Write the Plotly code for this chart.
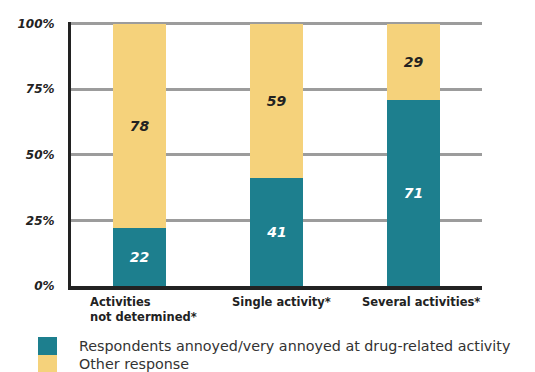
import plotly.graph_objects as go

categories = ["Activities<br>not determined*", "Single activity*", "Several activities*"]
annoyed = [22, 41, 71]
other = [78, 59, 29]
series_names = ["Respondents annoyed/very annoyed at drug-related activity", "Other response"]
y_ticks = [0, 25, 50, 75, 100]
y_tick_text = ["0%", "25%", "50%", "75%", "100%"]

TEAL = "#1d7f8e"
SAND = "#f5d27b"
INK = "#222222"
FONT = "DejaVu Sans"

# plot area in pixels
W, H = 535, 372
L, R, T, B = 71, 53, 22, 86
PW, PH = W - L - R, H - T - B


def px_x(x):
    return (x - L) / PW


def px_y(y):
    return (H - B - y) / PH


x_idx = list(range(len(categories)))

fig = go.Figure()
fig.add_trace(go.Bar(
    x=x_idx, y=annoyed, name=series_names[0], marker=dict(color=TEAL, line=dict(width=0)),
    text=annoyed, texttemplate="<b><i>%{text}</i></b>", textposition="inside",
    insidetextanchor="middle", textfont=dict(family=FONT, size=14, color="white"),
    width=0.38, showlegend=False,
))
fig.add_trace(go.Bar(
    x=x_idx, y=other, name=series_names[1], marker=dict(color=SAND, line=dict(width=0)),
    text=other, texttemplate="<b><i>%{text}</i></b>", textposition="inside",
    insidetextanchor="middle", textfont=dict(family=FONT, size=14, color=INK),
    width=0.38, showlegend=False,
))

# category labels under the axis
label_layout = [("left", -52), ("center", 5), ("center", 7)]
annotations = []
for i, (cat, (anchor, shift)) in enumerate(zip(categories, label_layout)):
    annotations.append(dict(
        x=i, y=0, xref="x", yref="paper", yanchor="top", yshift=-7,
        xanchor=anchor, xshift=shift, align="left", showarrow=False,
        text=f"<b>{cat}</b>", font=dict(family=FONT, size=11.5, color=INK),
    ))

# legend drawn as swatches with labels
shapes = []
legend_colors = [TEAL, SAND]
legend_rows = [346, 364]
for name, color, yc in zip(series_names, legend_colors, legend_rows):
    shapes.append(dict(type="rect", xref="paper", yref="paper", layer="above",
                       x0=px_x(38), x1=px_x(57), y0=px_y(yc + 9), y1=px_y(yc - 9),
                       fillcolor=color, line=dict(width=0)))
    annotations.append(dict(
        x=px_x(77), y=px_y(yc), xref="paper", yref="paper",
        xanchor="left", yanchor="middle", showarrow=False, text=name,
        font=dict(family=FONT, size=14.3, color="#333333"),
    ))

fig.update_layout(
    barmode="stack",
    width=W, height=H,
    margin=dict(l=L, r=R, t=T, b=B),
    paper_bgcolor="white", plot_bgcolor="white",
    xaxis=dict(range=[-0.5, 2.5], showticklabels=False, ticks="", showgrid=False,
               showline=True, linecolor=INK, linewidth=4, zeroline=False, fixedrange=True),
    yaxis=dict(range=[0, 100.6], tickvals=y_ticks, ticktext=[f"<b><i>{t}</i></b>" for t in y_tick_text],
               tickfont=dict(family=FONT, size=12, color=INK), ticks="", ticklabelstandoff=11,
               showgrid=True, gridcolor="#9c9c9c", gridwidth=3,
               showline=True, linecolor=INK, linewidth=3, zeroline=False, fixedrange=True),
    annotations=annotations,
    shapes=shapes,
    showlegend=False,
)

fig.write_html("out.html")
